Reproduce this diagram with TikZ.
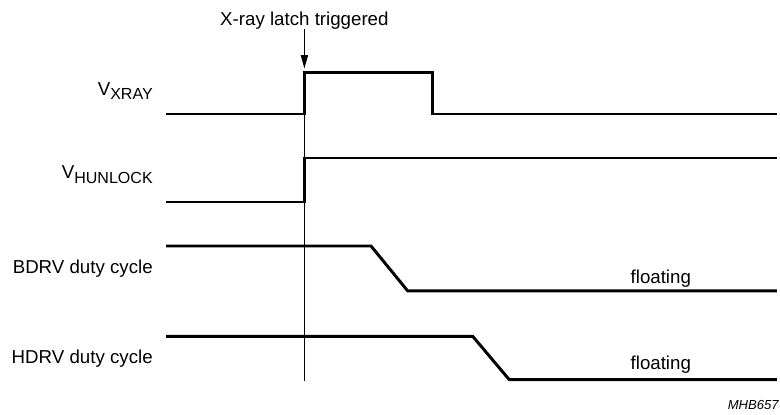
\documentclass[tikz,border=0pt]{standalone}
\usepackage{fontspec}
\setmainfont{Liberation Sans}
\usetikzlibrary{arrows.meta, positioning}

\tikzset{
    signal/.style={line width=2.1pt, line join=miter},
    marker/.style={line width=0.7pt},
    lbl/.style={font=\fontsize{13.3}{15}\selectfont, inner sep=0pt},
}
\newcommand{\sigsub}[2]{#1\lower3.5pt\hbox{\fontsize{11.4}{12}\selectfont #2}}

\begin{document}
\begin{tikzpicture}
    \useasboundingbox (0,0) rectangle (19.5,10.35);

%okidanje
    %vertikalna linija
    \coordinate (trigtop) at (7.61,7.5);
    \coordinate (trigbot) at (7.61,0.825);
    \draw[marker] (trigtop) -- (trigbot);

    %strelica
    \node[lbl, anchor=base] (trig) at (7.61,9.725) {X-ray latch triggered};
    \coordinate (tip) at (7.61,8.64);
    \draw[marker, -{Triangle[length=3.3mm,width=1.8mm]}] (trig) -- (tip);

%signali
    %VXRAY
    \node[lbl, anchor=base east] (xray) at (3.825,7.975) {\sigsub{V}{XRAY}};
    \draw[signal] (4.15,7.5) -- (7.61,7.5) -- (7.61,8.53)
                  -- (10.82,8.53) -- (10.82,7.5) -- (19.42,7.5);

    %VHUNLOCK
    \node[lbl, anchor=base east] (hunlock) at (3.825,5.8875) {\sigsub{V}{HUNLOCK}};
    \draw[signal] (4.15,5.3) -- (7.61,5.3) -- (7.61,6.4) -- (19.42,6.4);

    %BDRV
    \node[lbl, anchor=base east] (bdrv) at (3.825,3.5175) {BDRV duty cycle};
    \draw[signal] (4.15,4.2) -- (9.275,4.2) -- (10.19,3.08) -- (19.42,3.08);
    \node[lbl, anchor=base] (floatb) at (16.52,3.2675) {floating};

    %HDRV
    \node[lbl, anchor=base east] (hdrv) at (3.825,1.275) {HDRV duty cycle};
    \draw[signal] (4.15,1.94) -- (11.82,1.94) -- (12.73,0.86) -- (19.42,0.86);
    \node[lbl, anchor=base] (floath) at (16.52,1.1175) {floating};

%oznaka
    \node[font=\fontsize{9.3}{10}\selectfont\itshape, inner sep=0pt,
          anchor=base east] (code) at (19.475,0.1175) {MHB657};
\end{tikzpicture}
\end{document}
